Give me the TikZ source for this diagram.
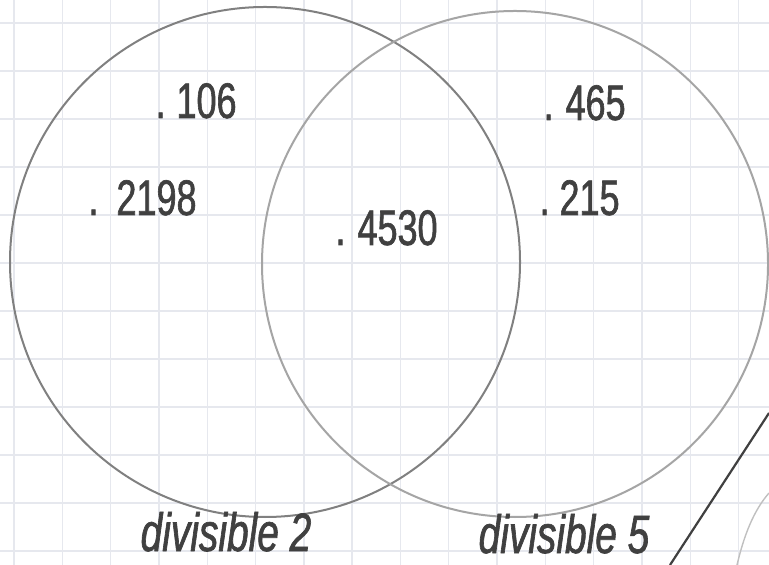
\documentclass[tikz,border=0pt]{standalone}
\usepackage{fontspec}
\newfontfamily\handfont[FakeStretch=0.72, FakeBold=1.2]{Liberation Sans}
\usepackage{tikz}
\usetikzlibrary{positioning}
\definecolor{gridblue}{RGB}{230, 232, 238}
\definecolor{pencil}{RGB}{64, 64, 64}
\definecolor{leadgray}{RGB}{128, 128, 128}
\definecolor{lightlead}{RGB}{165, 165, 165}

\tikzset{
  gridline/.style={line width=0.7pt, gridblue},
  setring/.style={line width=1pt},
  numtext/.style={font=\handfont\fontsize{25}{30}\selectfont, pencil, anchor=base east, inner sep=0pt},
  settitle/.style={font=\handfont\itshape\fontsize{27}{32}\selectfont, pencil, anchor=base, inner sep=0pt}
}

\begin{document}
\begin{tikzpicture}[x=0.5pt, y=-0.5pt]
  \useasboundingbox (0,0) rectangle (769,565);
  \fill[white] (0,0) rectangle (769,565);

  % ===== 方格纸 =====
  \foreach \i in {0,...,15} {
    \draw[gridline] (14+48.3*\i, 0) -- (14+48.3*\i, 565);
  }
  \foreach \j in {0,...,11} {
    \draw[gridline] (0, 23+48*\j) -- (769, 23+48*\j);
  }

  % ===== 两个集合 =====
  \draw[setring, leadgray] (265, 262) circle[radius=255];
  \draw[setring, lightlead] (515, 264) circle[radius=253];

  % 集合名
  \node[settitle] (lbltwo) at (226, 551) {divisible 2};
  \node[settitle] (lblfive) at (564, 553) {divisible 5};

  % ===== 元素 =====
  \node[numtext] (n106) at (237, 118) {.\kern5.5pt 106};
  \node[numtext] (n2198) at (197, 215) {.\kern9pt 2198};
  \node[numtext] (n4530) at (438, 245) {.\kern6pt 4530};
  \node[numtext] (n465) at (626, 120) {.\kern6pt 465};
  \node[numtext] (n215) at (620, 215) {.\kern5pt 215};

  % ===== 右下角的笔画 =====
  \draw[line width=1.1pt, pencil] (769, 413) -- (670, 565);
  \draw[line width=0.7pt, lightlead!70] (737, 565) .. controls (744, 535) and (754, 510) .. (769, 493);
\end{tikzpicture}
\end{document}
